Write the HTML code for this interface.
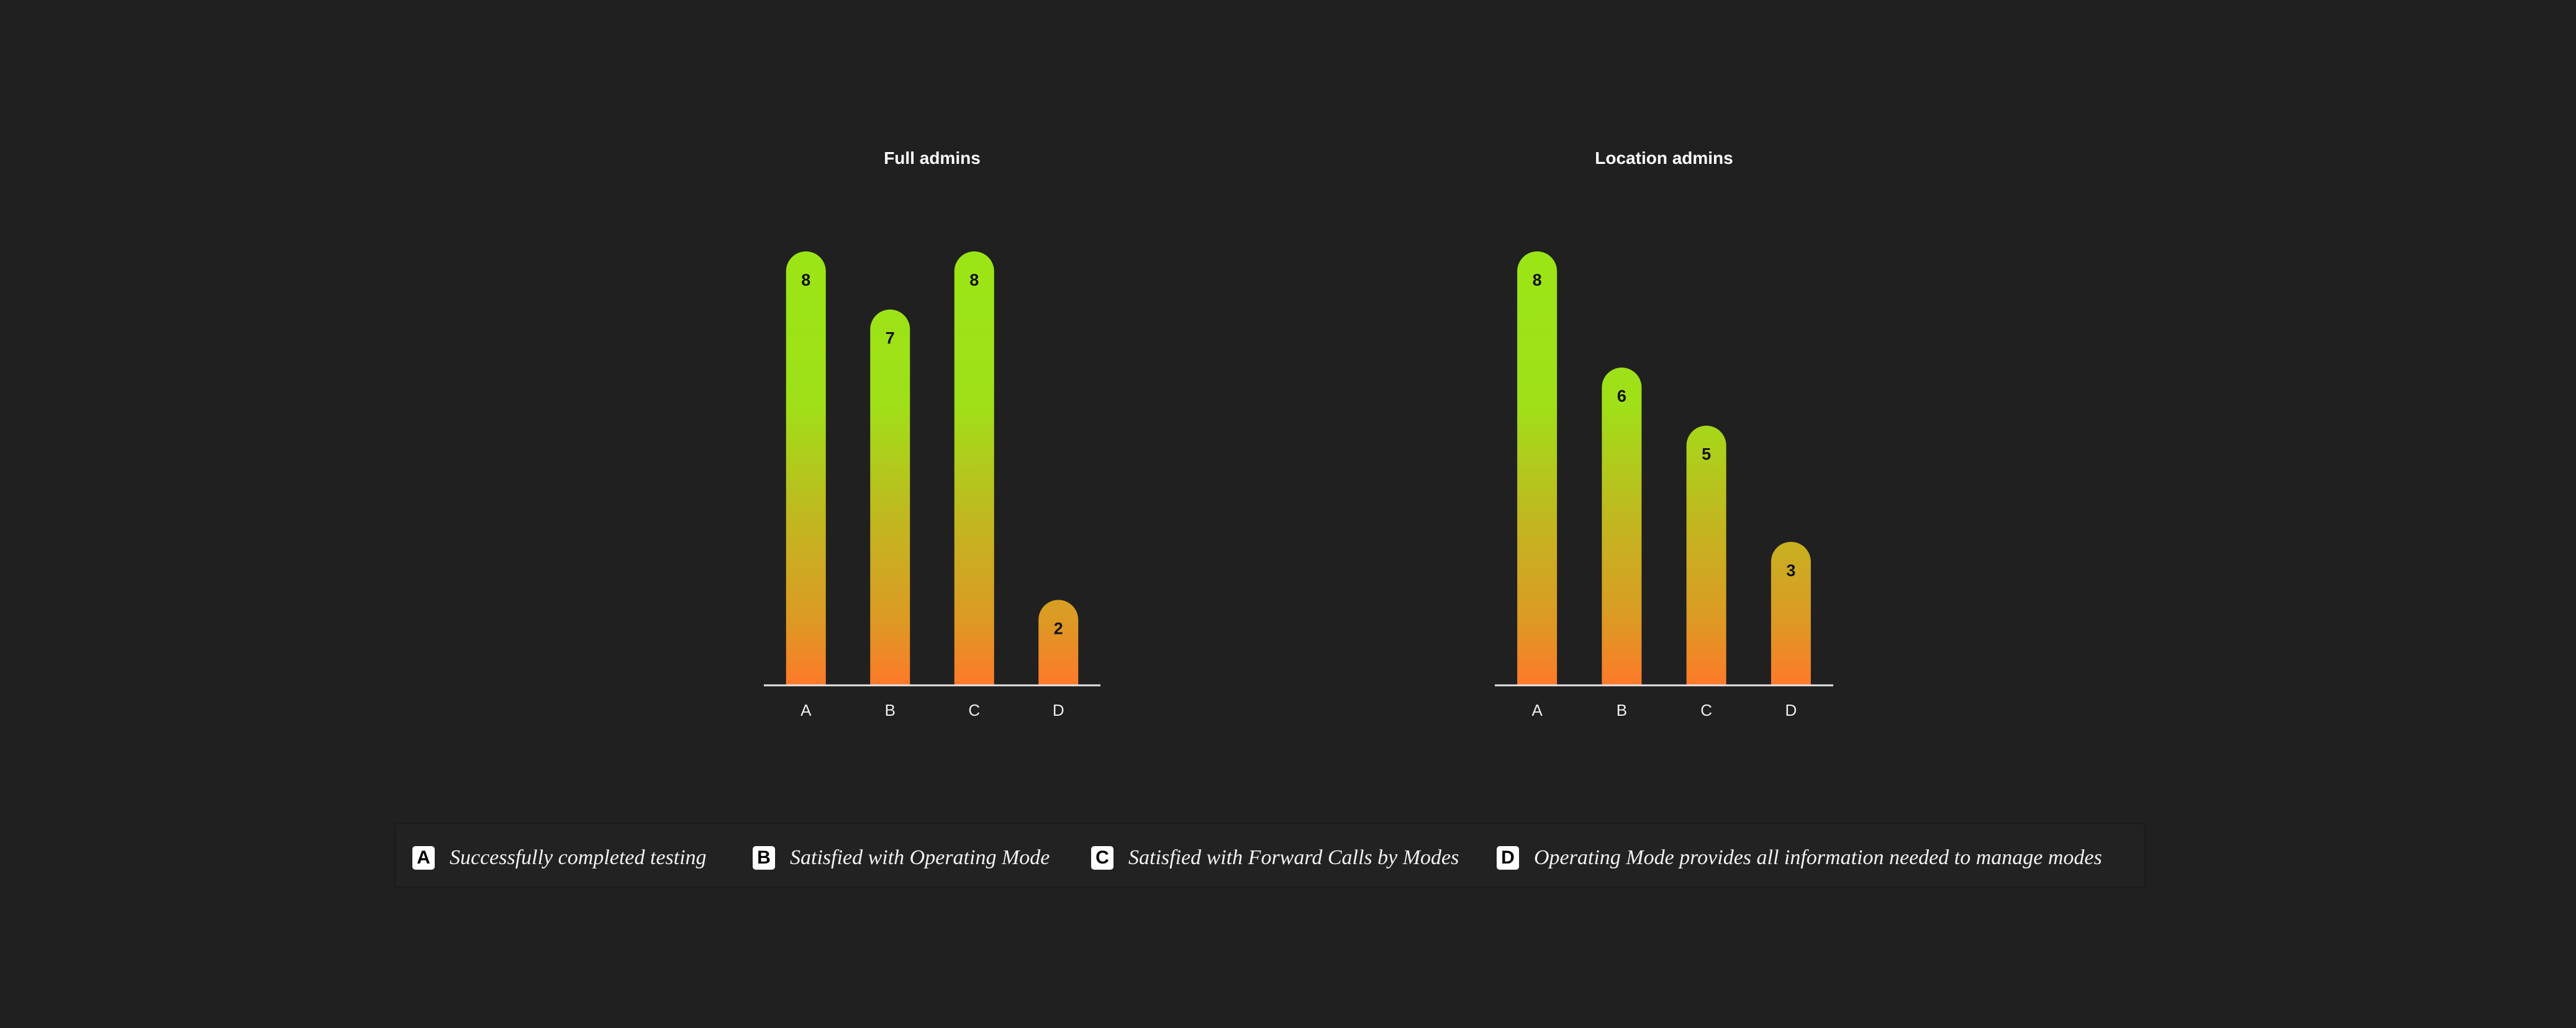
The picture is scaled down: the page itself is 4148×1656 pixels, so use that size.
<!DOCTYPE html>
<html><head><meta charset="utf-8"><style>
html,body{margin:0;padding:0;background:#202020;}
body{width:4148px;height:1656px;overflow:hidden;position:relative;font-family:"Liberation Sans",sans-serif;}
svg{position:absolute;left:0;top:0;}
.legend{position:absolute;left:635px;top:1325px;width:2820px;height:106px;background:#222;border:3px solid #1c1c1c;box-sizing:border-box;}
.item{position:absolute;top:34px;height:40px;display:flex;align-items:center;color:#f2f2f2;font-family:"Liberation Serif",serif;font-style:italic;font-size:34px;white-space:nowrap;}
.badge{display:inline-block;width:36px;height:38px;background:#fff;color:#000;border-radius:5px;font-family:"Liberation Sans",sans-serif;font-style:normal;font-weight:bold;font-size:30px;line-height:38px;text-align:center;margin-right:24px;}
</style></head><body>
<svg id="chart" width="4148" height="1656" viewBox="0 0 4148 1656">
<defs>
<linearGradient id="grad" gradientUnits="userSpaceOnUse" x1="0" y1="405" x2="0" y2="1103">
<stop offset="0" stop-color="#9be516"/>
<stop offset="0.35" stop-color="#9fe018"/>
<stop offset="0.62" stop-color="#c1b720"/>
<stop offset="0.85" stop-color="#dc9a24"/>
<stop offset="1" stop-color="#fd7a2a"/>
</linearGradient>
</defs>
</svg>
<div class="legend">
<div class="item" style="left:26px"><span class="badge">A</span>Successfully completed testing</div>
<div class="item" style="left:574px"><span class="badge">B</span>Satisfied with Operating Mode</div>
<div class="item" style="left:1119px"><span class="badge">C</span>Satisfied with Forward Calls by Modes</div>
<div class="item" style="left:1772px"><span class="badge">D</span>Operating Mode provides all information needed to manage modes</div>
</div>
<script>
const categories = ["A","B","C","D"];
const fullAdmins = [8,7,8,2];
const locationAdmins = [8,6,5,3];
const chartTitles = ["Full admins","Location admins"];

const NS="http://www.w3.org/2000/svg";
const svg=document.getElementById('chart');
const baseY=1103, dMin=0.54, dMax=8, topY=405;
function yScale(v){return baseY-(v-dMin)/(dMax-dMin)*(baseY-topY);}
const panels=[{x0:1230,x1:1772,vals:fullAdmins,title:chartTitles[0]},{x0:2407,x1:2952,vals:locationAdmins,title:chartTitles[1]}];
function xScale(p,i){const step=(p.x1-p.x0)/categories.length;return p.x0+step*(i+0.5);}
function mk(tag,attrs){const e=document.createElementNS(NS,tag);for(const k in attrs)e.setAttribute(k,attrs[k]);svg.appendChild(e);return e;}
const bw=64,r=32;
panels.forEach((p,pi)=>{
  const t=mk('text',{x:(p.x0+p.x1)/2,y:264,'text-anchor':'middle',fill:'#fff','font-size':28,'font-weight':'bold','font-family':'Liberation Sans, sans-serif'});
  t.textContent=p.title;
  
  
  p.vals.forEach((v,i)=>{
    const cx=xScale(p,i), y=yScale(v), x=cx-bw/2;
    const b=mk('path',{d:`M${x},${baseY}V${y+r}A${r},${r} 0 0 1 ${x+bw},${y+r}V${baseY}Z`,fill:'url(#grad)'});
    
    
    const l=mk('text',{x:cx,y:y+55,'text-anchor':'middle',fill:'#111','font-size':27,'font-weight':'bold','font-family':'Liberation Sans, sans-serif'});
    l.textContent=v;
    
    
    const c=mk('text',{x:cx,y:1153,'text-anchor':'middle',fill:'#eee','font-size':26,'font-family':'Liberation Sans, sans-serif'});
    c.textContent=categories[i];
    
    
  });
  const ax=mk('line',{x1:p.x0,x2:p.x1,y1:baseY+1,y2:baseY+1,stroke:'#e6e6e6','stroke-width':3});
  
  
});
</script>
</body></html>
